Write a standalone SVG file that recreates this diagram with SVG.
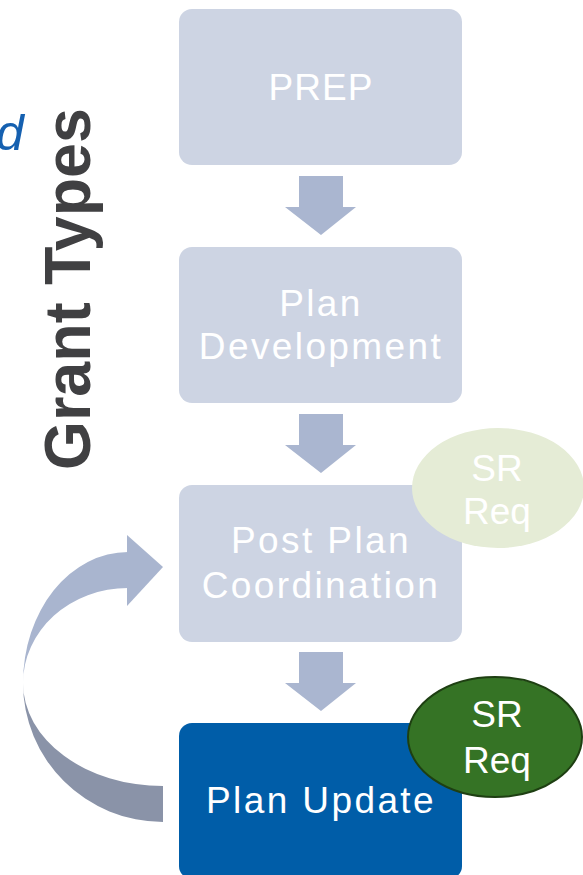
<svg xmlns="http://www.w3.org/2000/svg" width="583" height="875" viewBox="0 0 583 875">
<style>
.box{fill:#CDD4E3}
.boxd{fill:#005DA8}
.lbl{font-family:"Liberation Sans",Arial,sans-serif;font-size:37px;fill:#FFFFFF;text-anchor:middle;letter-spacing:2.4px}
.sr{font-family:"Liberation Sans",Arial,sans-serif;font-size:37px;fill:#FFFFFF;text-anchor:middle}
.dn{fill:#AAB6D0}
</style>
<rect width="583" height="875" fill="#FFFFFF"/>
<text x="-4" y="150" font-family="Liberation Sans, Arial, sans-serif" font-style="italic" font-size="50" fill="#1560B0">d</text>
<text transform="translate(90,289) rotate(-90)" font-family="Liberation Sans, Arial, sans-serif" font-weight="bold" font-size="64" fill="#404042" text-anchor="middle" textLength="362" lengthAdjust="spacingAndGlyphs">Grant Types</text>
<g id="connectors">
<path class="dn" d="M299,176 H343 V207 H356 L321,235 L285,207 H299 Z"/>
<path class="dn" d="M299,414 H343 V445 H356 L321,473 L285,445 H299 Z"/>
<path class="dn" d="M299,652 H343 V683 H356 L321,711 L285,683 H299 Z"/>
<g id="loop-arrow">
<path fill="#8A93A8" d="M23,683 A140 139 0 0 0 163,822 L163,786 A140 103 0 0 1 23,683 Z"/>
<path fill="#A9B5CF" d="M128,552 A105 131 0 0 0 23,683 A105 95 0 0 1 128,588 Z"/>
<path fill="#A9B5CF" d="M127,535 L163,567 L127,606 Z"/>
</g>
</g>
<g id="prep">
<rect class="box" x="179" y="9" width="283" height="156" rx="13"/>
<text class="lbl" x="321" y="100" style="letter-spacing:1px">PREP</text>
</g>
<g id="plan-development">
<rect class="box" x="179" y="247" width="283" height="156" rx="13"/>
<text class="lbl" x="321" y="316">Plan</text>
<text class="lbl" x="321" y="359">Development</text>
</g>
<g id="post-plan-coordination">
<rect class="box" x="179" y="485" width="283" height="157" rx="13"/>
<text class="lbl" x="321" y="553">Post Plan</text>
<text class="lbl" x="321" y="598">Coordination</text>
</g>
<g id="plan-update">
<rect class="boxd" x="179" y="723" width="283" height="156" rx="13"/>
<text class="lbl" x="321" y="813">Plan Update</text>
</g>
<g id="sr-req-light">
<ellipse cx="498" cy="488" rx="86" ry="60" fill="#E5ECD6"/>
<text class="sr" x="497" y="481">SR</text>
<text class="sr" x="497" y="524">Req</text>
</g>
<g id="sr-req-dark">
<ellipse cx="495" cy="737" rx="87" ry="60" fill="#357325" stroke="#1E3F12" stroke-width="2"/>
<text class="sr" x="497" y="727">SR</text>
<text class="sr" x="497" y="773">Req</text>
</g>
</svg>
